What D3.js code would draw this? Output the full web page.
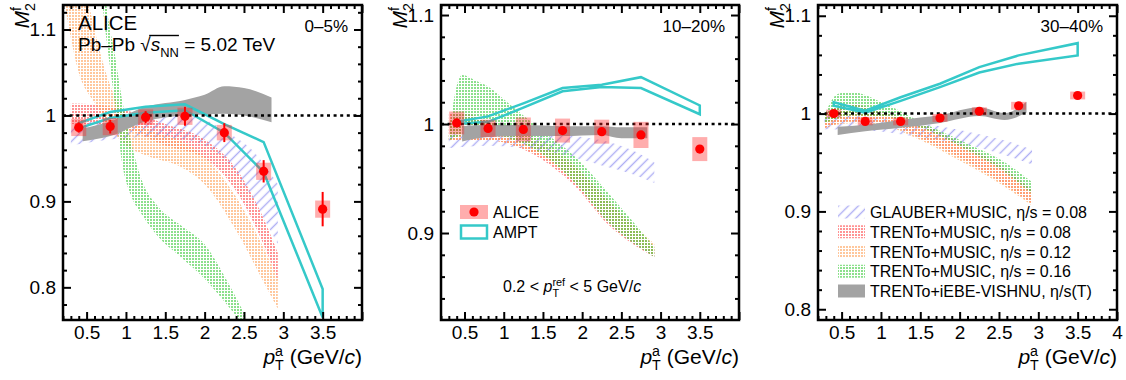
<!DOCTYPE html>
<html>
<head>
<meta charset="utf-8">
<script src="https://cdn.jsdelivr.net/npm/d3@7"></script>
<style>
  body { margin: 0; background: #fff; }
  svg { font-family: "Liberation Sans", Arial, Helvetica, sans-serif; }
</style>
</head>
<body>
<svg id="chart" width="1126" height="380"></svg>
<script>
// ---------- DATA ----------
// pT^a bin centres (GeV/c)
const ptCenters = [0.4, 0.8, 1.25, 1.75, 2.25, 2.75, 3.5];
const xTickLabels = [0.5, 1, 1.5, 2, 2.5, 3, 3.5];
const xTickLabelsLast = [0.5, 1, 1.5, 2, 2.5, 3, 3.5, 4];

// ALICE M2f : value, stat, sys
const alice_0_5 = [0.986, 0.987, 0.998, 0.999, 0.980, 0.935, 0.891];
const aliceStat_0_5 = [0.006, 0.008, 0.007, 0.011, 0.011, 0.013, 0.020];
const aliceSys_0_5 = [0.010, 0.010, 0.009, 0.010, 0.009, 0.010, 0.010];

const alice_10_20 = [1.001, 0.996, 0.995, 0.994, 0.993, 0.990, 0.977];
const aliceStat_10_20 = [0.002, 0.002, 0.002, 0.002, 0.002, 0.002, 0.003];
const aliceSys_10_20 = [0.0105, 0.008, 0.011, 0.011, 0.011, 0.012, 0.011];

const alice_30_40 = [1.000, 0.992, 0.992, 0.9955, 1.0024, 1.008, 1.0185];
const aliceStat_30_40 = [0.001, 0.001, 0.001, 0.001, 0.001, 0.001, 0.002];
const aliceSys_30_40 = [0.004, 0.004, 0.004, 0.004, 0.004, 0.004, 0.004];

// AMPT band edges
const amptHi_0_5 = [0.991, 1.004, 1.010, 1.013, 0.990, 0.969, 0.798];
const amptLo_0_5 = [0.985, 0.997, 1.003, 1.006, 0.980, 0.934, 0.765];
const amptHi_10_20 = [1.002, 1.007, 1.019, 1.033, 1.036, 1.043, 1.017];
const amptLo_10_20 = [1.000, 1.002, 1.015, 1.030, 1.034, 1.033, 1.009];
const amptHi_30_40 = [1.0116, 1.003, 1.0167, 1.0305, 1.0475, 1.0595, 1.072];
const amptLo_30_40 = [1.008, 1.001, 1.013, 1.027, 1.042, 1.051, 1.0595];

// model bands: [pT, low, high]
const glauber_0_5 = [[0.3,0.965,0.99],[0.8,0.972,0.995],[1.25,0.975,1.0],[1.75,0.972,1.0],[2.0,0.965,0.995],[2.3,0.945,0.98],[2.6,0.905,0.96],[2.93,0.85,0.92]];
const trentoA_0_5 = [[0.3,0.990,1.014],[0.6,0.990,1.013],[1.0,0.984,1.006],[1.5,0.965,0.99],[2.0,0.950,0.972],[2.4,0.912,0.938],[2.7,0.86,0.89],[2.93,0.808,0.84]];
const trentoB_0_5 = [[0.22,1.13,1.30],[0.4,1.05,1.19],[0.6,1.015,1.10],[0.8,0.985,1.035],[1.0,0.965,1.0],[1.3,0.952,0.983],[1.7,0.94,0.97],[2.0,0.92,0.952],[2.4,0.866,0.905],[2.7,0.815,0.855],[2.93,0.775,0.81]];
const trentoC_0_5 = [[0.6,1.22,1.30],[0.75,1.09,1.13],[0.86,1.014,1.07],[0.96,0.94,1.014],[1.05,0.91,0.975],[1.2,0.885,0.925],[1.4,0.86,0.895],[1.7,0.835,0.872],[2.0,0.81,0.85],[2.3,0.778,0.805],[2.5,0.755,0.77]];
const vishnu_0_5 = [[0.45,0.970,0.985],[0.8,0.976,0.993],[1.25,0.993,1.010],[1.75,1.0,1.018],[2.0,1.001,1.024],[2.25,1.002,1.034],[2.5,1.0,1.032],[2.85,0.992,1.021]];

const glauber_10_20 = [[0.3,0.978,0.99],[0.8,0.98,0.993],[1.25,0.978,0.993],[1.75,0.972,0.99],[2.25,0.962,0.985],[2.6,0.955,0.977],[2.92,0.946,0.965]];
const trentoA_10_20 = [[0.3,0.985,1.01],[0.5,0.985,1.01],[0.8,0.985,1.003],[1.06,0.982,0.995],[1.48,0.968,0.98],[1.91,0.943,0.96],[2.33,0.908,0.93],[2.92,0.878,0.885]];
const trentoB_10_20 = [[0.3,0.985,1.005],[0.8,0.985,1.0],[1.06,0.982,0.995],[1.48,0.97,0.985],[1.91,0.946,0.962],[2.33,0.912,0.93],[2.92,0.88,0.89]];
const trentoC_10_20 = [[0.3,0.985,0.99],[0.4,0.988,1.035],[0.47,0.99,1.045],[0.64,0.993,1.04],[0.81,0.992,1.034],[1.06,0.987,1.019],[1.48,0.973,0.9945],[1.91,0.946,0.970],[2.33,0.91,0.937],[2.92,0.878,0.887]];
const vishnu_10_20 = [[0.47,0.984,0.998],[0.8,0.988,0.999],[1.25,0.989,0.999],[1.75,0.989,0.998],[2.25,0.990,0.998],[2.5,0.987,0.997],[2.83,0.987,0.997]];

const glauber_30_40 = [[0.28,0.984,0.998],[0.8,0.983,0.997],[1.25,0.979,0.993],[1.75,0.973,0.987],[2.25,0.965,0.979],[2.6,0.957,0.972],[2.92,0.948,0.963]];
const trentoA_30_40 = [[0.28,0.985,1.0],[0.6,0.992,1.01],[1.0,0.99,1.002],[1.5,0.975,0.99],[2.0,0.955,0.97],[2.5,0.931,0.948],[2.92,0.908,0.922]];
const trentoB_30_40 = [[0.28,0.985,0.998],[0.6,0.99,1.008],[1.0,0.988,1.0],[1.5,0.973,0.988],[2.0,0.952,0.968],[2.5,0.929,0.945],[2.92,0.906,0.92]];
const trentoC_30_40 = [[0.28,0.99,0.998],[0.45,0.995,1.02],[0.62,0.998,1.022],[1.05,0.997,1.010],[1.47,0.987,0.993],[2.11,0.962,0.969],[2.54,0.942,0.952],[2.92,0.918,0.930]];
const vishnu_30_40 = [[0.45,0.978,0.9865],[0.8,0.982,0.9885],[1.25,0.9855,0.9935],[1.75,0.9905,0.9985],[2.25,0.9975,1.0065],[2.57,0.9935,1.0005],[2.85,1.001,1.012]];

const legendModels = ['GLAUBER+MUSIC, η/s = 0.08', 'TRENTo+MUSIC, η/s = 0.08', 'TRENTo+MUSIC, η/s = 0.12', 'TRENTo+MUSIC, η/s = 0.16', 'TRENTo+iEBE-VISHNU, η/s(T)'];

// ---------- STYLE / LAYOUT ----------
const plotTop = 5, plotBottom = 320;
const cyan = '#35c9c9';
const fills = ['url(#hatchBlue)', 'url(#dotRed)', 'url(#dotOrange)', 'url(#dotGreen)', '#a3a3a3'];

const panels = [
  { left: 63, right: 362, yDomain: [0.762, 1.1285], xTicks: xTickLabels, label: '0–5%',
    alice: alice_0_5, stat: aliceStat_0_5, sys: aliceSys_0_5, amptHi: amptHi_0_5, amptLo: amptLo_0_5,
    bands: [glauber_0_5, trentoA_0_5, trentoB_0_5, trentoC_0_5, vishnu_0_5] },
  { left: 441, right: 739, yDomain: [0.8202, 1.1092], xTicks: xTickLabels, label: '10–20%',
    alice: alice_10_20, stat: aliceStat_10_20, sys: aliceSys_10_20, amptHi: amptHi_10_20, amptLo: amptLo_10_20,
    bands: [glauber_10_20, trentoA_10_20, trentoB_10_20, trentoC_10_20, vishnu_10_20] },
  { left: 818, right: 1117, yDomain: [0.789, 1.111], xTicks: xTickLabelsLast, label: '30–40%',
    alice: alice_30_40, stat: aliceStat_30_40, sys: aliceSys_30_40, amptHi: amptHi_30_40, amptLo: amptLo_30_40,
    bands: [glauber_30_40, trentoA_30_40, trentoB_30_40, trentoC_30_40, vishnu_30_40] },
];

const svg = d3.select('#chart');
const defs = svg.append('defs');

// dotted fills (ROOT-like fill styles)
const dotPattern = (id, color) => {
  const p = defs.append('pattern').attr('id', id).attr('patternUnits', 'userSpaceOnUse').attr('width', 3).attr('height', 3);
  p.append('rect').attr('width', 2).attr('height', 2).attr('fill', color);
};
dotPattern('dotRed', 'rgba(255,80,80,0.62)');
dotPattern('dotOrange', 'rgba(255,165,95,0.62)');
dotPattern('dotGreen', 'rgba(70,205,70,0.62)');
const hatch = defs.append('pattern').attr('id', 'hatchBlue').attr('patternUnits', 'userSpaceOnUse')
  .attr('width', 7).attr('height', 7).attr('patternTransform', 'rotate(45)');
hatch.append('line').attr('x1', 3.5).attr('x2', 3.5).attr('y1', 0).attr('y2', 7)
  .attr('stroke', 'rgba(110,110,235,0.55)').attr('stroke-width', 1.4);

// rich text with italic / sub / superscripts
const sup = { shift: -0.38, scale: 0.68 };
const sub = { shift: 0.3, scale: 0.68 };
const richText = (parent, segs, size, anchor) => {
  const t = parent.append('text').attr('font-size', size).attr('xml:space', 'preserve').style('white-space', 'pre');
  let x = 0, lastX = 0;
  const info = [];
  segs.forEach((s) => {
    const sx = s.stack ? lastX : x;
    const sp = t.append('tspan').attr('x', sx).attr('y', (s.shift || 0) * size)
      .attr('font-size', size * (s.scale || 1)).text(s.t);
    if (s.italic) sp.attr('font-style', 'italic');
    const w = sp.node().getComputedTextLength();
    info.push({ x: sx, w });
    lastX = sx;
    x = Math.max(x, sx + w);
  });
  const dx = anchor === 'end' ? -x : 0;
  t.attr('transform', `translate(${dx},0)`);
  return { width: x, info, dx };
};

panels.forEach((pn, pi) => {
  const x = d3.scaleLinear().domain([0.2, 4.0]).range([pn.left, pn.right]);
  const y = d3.scaleLinear().domain(pn.yDomain).range([plotBottom, plotTop]);

  defs.append('clipPath').attr('id', `clip${pi}`).append('rect')
    .attr('x', pn.left).attr('y', plotTop).attr('width', pn.right - pn.left).attr('height', plotBottom - plotTop);
  const plot = svg.append('g').attr('clip-path', `url(#clip${pi})`);

  // model bands
  const area = d3.area().x((d) => x(d[0])).y0((d) => y(d[1])).y1((d) => y(d[2])).curve(d3.curveMonotoneX);
  pn.bands.forEach((b, bi) => {
    plot.append('path').datum(b).attr('d', area).attr('fill', fills[bi]);
  });

  // AMPT outline
  const amptPts = ptCenters.map((p, i) => [p, pn.amptHi[i]])
    .concat(ptCenters.map((p, i) => [p, pn.amptLo[i]]).reverse());
  plot.append('path').datum(amptPts)
    .attr('d', d3.line().x((d) => x(d[0])).y((d) => y(d[1])).curve(d3.curveLinearClosed))
    .attr('fill', 'none').attr('stroke', cyan).attr('stroke-width', 2.5);

  // unity line
  plot.append('line').attr('x1', pn.left).attr('x2', pn.right).attr('y1', y(1)).attr('y2', y(1))
    .attr('stroke', '#000').attr('stroke-width', 2.5).attr('stroke-dasharray', '3,3.6');

  // ALICE data
  const al = plot.append('g');
  ptCenters.forEach((p, i) => {
    const v = pn.alice[i];
    al.append('rect').attr('x', x(p) - 7.5).attr('width', 15)
      .attr('y', y(v + pn.sys[i])).attr('height', y(v - pn.sys[i]) - y(v + pn.sys[i]))
      .attr('fill', 'rgba(255,40,40,0.38)');
    al.append('line').attr('x1', x(p)).attr('x2', x(p)).attr('y1', y(v + pn.stat[i])).attr('y2', y(v - pn.stat[i]))
      .attr('stroke', '#ff0000').attr('stroke-width', 2);
    al.append('circle').attr('cx', x(p)).attr('cy', y(v)).attr('r', 4.6).attr('fill', '#ff0000');
  });

  // axes (ticks inward, ROOT style)
  const xMinor = d3.range(2, 41).map((i) => i / 10).filter((v) => Math.abs(v * 2 - Math.round(v * 2)) > 1e-6);
  const xMajor = d3.range(1, 9).map((i) => i / 2);
  const yMinor = d3.range(Math.ceil(pn.yDomain[0] / 0.02), Math.floor(pn.yDomain[1] / 0.02) + 1)
    .map((i) => +(i * 0.02).toFixed(2)).filter((v) => Math.abs(v * 10 - Math.round(v * 10)) > 1e-6);
  const yMajor = d3.range(Math.ceil(pn.yDomain[0] * 10), Math.floor(pn.yDomain[1] * 10) + 1).map((i) => i / 10);

  const ax = svg.append('g');
  const addAxis = (axis, tr) => ax.append('g').attr('transform', tr).call(axis)
    .call((g) => g.select('.domain').remove())
    .call((g) => g.selectAll('.tick line').attr('stroke-width', 2))
    .call((g) => g.selectAll('text').attr('font-size', 19).attr('font-family', null).attr('fill', '#000'));

  addAxis(d3.axisBottom(x).tickValues(xMinor).tickSize(-4).tickFormat(''), `translate(0,${plotBottom})`);
  addAxis(d3.axisTop(x).tickValues(xMinor).tickSize(-4).tickFormat(''), `translate(0,${plotTop})`);
  addAxis(d3.axisBottom(x).tickValues(xMajor).tickSize(-8).tickFormat(''), `translate(0,${plotBottom})`);
  addAxis(d3.axisTop(x).tickValues(xMajor).tickSize(-8).tickFormat(''), `translate(0,${plotTop})`);
  addAxis(d3.axisBottom(x).tickValues(pn.xTicks).tickSize(0).tickPadding(6).tickFormat((d) => String(d)), `translate(0,${plotBottom})`);

  addAxis(d3.axisLeft(y).tickValues(yMinor).tickSize(-4).tickFormat(''), `translate(${pn.left},0)`);
  addAxis(d3.axisRight(y).tickValues(yMinor).tickSize(-4).tickFormat(''), `translate(${pn.right},0)`);
  addAxis(d3.axisLeft(y).tickValues(yMajor).tickSize(-8).tickPadding(7).tickFormat((d) => String(d)), `translate(${pn.left},0)`);
  addAxis(d3.axisRight(y).tickValues(yMajor).tickSize(-8).tickFormat(''), `translate(${pn.right},0)`);

  svg.append('rect').attr('x', pn.left).attr('y', plotTop).attr('width', pn.right - pn.left).attr('height', plotBottom - plotTop)
    .attr('fill', 'none').attr('stroke', '#000').attr('stroke-width', 2.5);

  // axis titles
  const yt = svg.append('g').attr('transform', `translate(${pn.left - 34},3) rotate(-90)`);
  richText(yt, [{ t: 'M', italic: true }, { t: 'f', ...sup }, { t: '2', ...sub, stack: true }], 21, 'end');

  const xt = svg.append('g').attr('transform', `translate(${pn.right},364)`);
  richText(xt, [{ t: 'p', italic: true }, { t: 'a', ...sup }, { t: 'T', ...sub, stack: true },
    { t: ' (GeV/' }, { t: 'c', italic: true }, { t: ')' }], 21, 'end');

  // centrality
  svg.append('text').attr('x', pn.right - 14).attr('y', 32).attr('text-anchor', 'end')
    .attr('font-size', 17).text(pn.label);
});

// ---------- panel 1 labels ----------
svg.append('text').attr('x', 78).attr('y', 30).attr('font-size', 20.5).text('ALICE');
const sysLabel = svg.append('g').attr('transform', 'translate(78,51)');
const rt = richText(sysLabel, [{ t: 'Pb–Pb ' }, { t: '√' }, { t: 's', italic: true }, { t: 'NN', ...sub },
  { t: ' = 5.02 TeV' }], 19);
sysLabel.append('line').attr('x1', rt.info[1].x + rt.info[1].w * 0.85).attr('x2', rt.info[3].x + rt.info[3].w)
  .attr('y1', -15.5).attr('y2', -15.5).attr('stroke', '#000').attr('stroke-width', 1.4);

// ---------- panel 2 legend ----------
const lg2 = svg.append('g');
lg2.append('rect').attr('x', 460).attr('y', 205).attr('width', 28).attr('height', 14).attr('fill', 'rgba(255,40,40,0.38)');
lg2.append('circle').attr('cx', 474).attr('cy', 212).attr('r', 4.6).attr('fill', '#ff0000');
lg2.append('text').attr('x', 493).attr('y', 218).attr('font-size', 16).text('ALICE');
lg2.append('rect').attr('x', 461).attr('y', 225.5).attr('width', 26).attr('height', 13)
  .attr('fill', 'none').attr('stroke', cyan).attr('stroke-width', 2.5);
lg2.append('text').attr('x', 493).attr('y', 238).attr('font-size', 16).text('AMPT');
const rng = svg.append('g').attr('transform', 'translate(503,292)');
richText(rng, [{ t: '0.2 < ' }, { t: 'p', italic: true }, { t: 'ref', ...sup }, { t: 'T', ...sub, stack: true },
  { t: ' < 5 GeV/' }, { t: 'c', italic: true }], 16);

// ---------- panel 3 legend ----------
const lg3 = svg.append('g');
legendModels.forEach((name, i) => {
  const cy = 212 + i * 19.75;
  lg3.append('rect').attr('x', 838).attr('y', cy - 6.5).attr('width', 27).attr('height', 13).attr('fill', fills[i]);
  lg3.append('text').attr('x', 870).attr('y', cy + 6).attr('font-size', 16).text(name);
});
</script>
</body>
</html>
